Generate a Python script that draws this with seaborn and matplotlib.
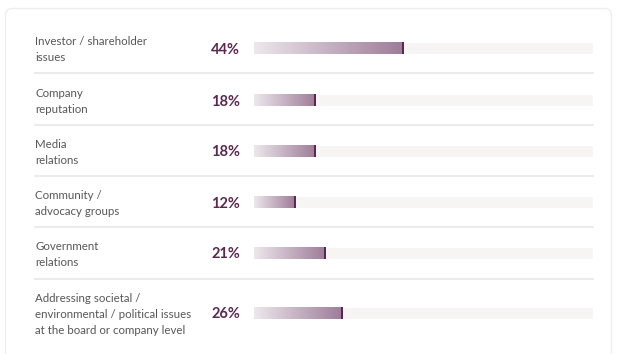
import numpy as np
import pandas as pd
import matplotlib
matplotlib.use("Agg")
import matplotlib.pyplot as plt
import seaborn as sns
from matplotlib.colors import LinearSegmentedColormap
from matplotlib.patches import FancyBboxPatch
from matplotlib.transforms import Affine2D

categories = [
    "Investor / shareholder\nissues",
    "Company\nreputation",
    "Media\nrelations",
    "Community /\nadvocacy groups",
    "Government\nrelations",
    "Addressing societal /\nenvironmental / political issues\nat the board or company level",
]
values = [44, 18, 18, 12, 21, 26]
value_labels = ["44%", "18%", "18%", "12%", "21%", "26%"]

# layout (pixel rows)
W, H = 618, 354
row_y = [48, 100, 151, 202, 253, 313]
sep_y = [73, 125, 176, 227, 279]
track_x0, track_x1 = 254, 593
px_per_unit = (track_x1 - track_x0) / 100.0

sns.set_theme(style="white")
plt.rcParams["font.family"] = ["Lato", "DejaVu Sans"]

fig = plt.figure(figsize=(W / 100, H / 100), dpi=100)
ax = fig.add_axes([0, 0, 1, 1])
ax.patch.set_alpha(0)

pix = Affine2D().scale(1 / W, -1 / H).translate(0, 1) + fig.transFigure
card = FancyBboxPatch((5.5, 8.5), 606, 360, boxstyle="round,pad=0,rounding_size=7",
                      transform=pix, facecolor="white", edgecolor="#eeeeee", linewidth=1.0, zorder=-5)
fig.patches.append(card)

df = pd.DataFrame({"y": row_y, "value": values, "track": [100] * len(values)})
bar_h = 12
width_rel = bar_h / min(np.diff(sorted(row_y)))

sns.barplot(data=df, x="track", y="y", orient="h", native_scale=True, width=width_rel,
            color="#f6f5f4", saturation=1, ax=ax, zorder=1)
n_track = len(ax.patches)
sns.barplot(data=df, x="value", y="y", orient="h", native_scale=True, width=width_rel,
            color="#a07f9b", saturation=1, ax=ax, zorder=2)

cmap = LinearSegmentedColormap.from_list("g", ["#ede8ec", "#c5b1c2", "#9d7c97"])
grad = np.linspace(0, 1, 256).reshape(1, -1)
for p in ax.patches[n_track:]:
    x0, y0 = p.get_x(), p.get_y()
    w, h = p.get_width(), p.get_height()
    p.set_facecolor("none")
    im = ax.imshow(grad, cmap=cmap, aspect="auto", extent=(x0, x0 + w, y0 + h, y0),
                   zorder=2.5, interpolation="bicubic")
    im.set_clip_path(p)
    ax.plot([x0 + w, x0 + w], [y0, y0 + h], color="#5a2550", lw=1.4, zorder=3,
            solid_capstyle="butt")

ax.set_xlim(-track_x0 / px_per_unit, (W - track_x0) / px_per_unit)
ax.set_ylim(H, 0)
ax.axis("off")

# separators
sx0 = (35 - track_x0) / px_per_unit
sx1 = (593 - track_x0) / px_per_unit
for y in sep_y:
    ax.plot([sx0, sx1], [y, y], color="#ebebeb", lw=1.5, zorder=1)

# labels
lx = (35 - track_x0) / px_per_unit
vx = (240 - track_x0) / px_per_unit
for cat, y, lab in zip(categories, row_y, value_labels):
    ax.text(lx, y + 1.5, cat, ha="left", va="center", fontsize=8.3, color="#575757",
            linespacing=1.5)
    ax.text(vx, y + 1.5, lab, ha="right", va="center", fontsize=10.5, fontweight="bold",
            color="#5a2750")

fig.savefig("out.png", dpi=100, facecolor="white")
